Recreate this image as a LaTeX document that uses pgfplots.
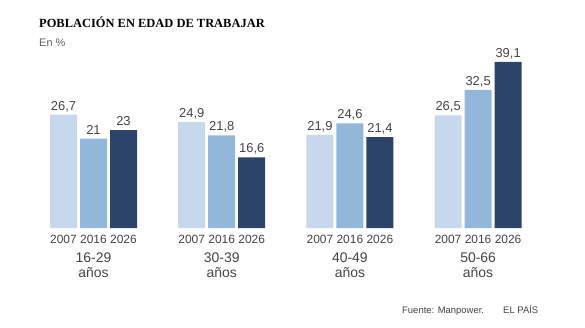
\documentclass[border=0pt]{standalone}
\usepackage{pgfplots}
\pgfplotsset{compat=1.18}
\usepackage{fontspec}
\setmainfont{Liberation Sans}
\newfontfamily\titlefont{Liberation Serif}
\definecolor{c1}{RGB}{198,217,236}
\definecolor{c2}{RGB}{146,183,219}
\definecolor{c3}{RGB}{44,68,105}
\definecolor{txt}{RGB}{68,68,68}
\begin{document}
\begin{tikzpicture}
\useasboundingbox (0,0) rectangle (585bp,328bp);
\node[anchor=base west, inner sep=0pt] at (39bp,300bp) {\titlefont\bfseries\fontsize{12.5}{14}\selectfont POBLACIÓN EN EDAD DE TRABAJAR};
\node[anchor=base west, inner sep=0pt, text=txt!85] at (39bp,281bp) {\fontsize{11}{13}\selectfont En \%};
\node[anchor=base west, inner sep=0pt, text=txt] at (402bp,15bp) {\fontsize{9.5}{11}\selectfont Fuente: Manpower.};
\node[anchor=base west, inner sep=0pt, text=txt] at (503bp,15bp) {\fontsize{9.5}{11}\selectfont EL PAÍS};
\begin{axis}[
  at={(93.5bp,100bp)}, anchor=origin,
  x=128.2bp, y=4.25bp,
  xmin=-0.5, xmax=3.5, ymin=0, ymax=42,
  clip=false,
  axis line style={draw=none},
  xtick=\empty, ytick=\empty,
  ybar, bar width=27bp,
  /pgf/number format/assume math mode=true,
  /pgf/number format/use comma,
  nodes near coords,
  nodes near coords style={anchor=base, yshift=4.5bp, text=txt, font=\fontsize{13}{15}\selectfont, inner sep=0pt},
]
\addplot[draw=none, fill=c1, bar shift=-30bp] coordinates {(0,26.7) (1,24.9) (2,21.9) (3,26.5)};
\addplot[draw=none, fill=c2, bar shift=0bp] coordinates {(0,21) (1,21.8) (2,24.6) (3,32.5)};
\addplot[draw=none, fill=c3, bar shift=30bp] coordinates {(0,23) (1,16.6) (2,21.4) (3,39.1)};
\pgfplotsinvokeforeach{0,1,2,3}{
  \node[anchor=base, inner sep=0pt, text=txt, font=\fontsize{12}{14}\selectfont, yshift=-15bp] at (axis cs:#1,0) {\makebox[30bp]{2007}\makebox[30bp]{2016}\makebox[30bp]{2026}};
  \node[anchor=base, inner sep=0pt, text=txt, font=\fontsize{14}{16}\selectfont, yshift=-49bp] at (axis cs:#1,0) {años};
}
\node[anchor=base, inner sep=0pt, text=txt, font=\fontsize{14}{16}\selectfont, yshift=-34bp] at (axis cs:0,0) {16-29};
\node[anchor=base, inner sep=0pt, text=txt, font=\fontsize{14}{16}\selectfont, yshift=-34bp] at (axis cs:1,0) {30-39};
\node[anchor=base, inner sep=0pt, text=txt, font=\fontsize{14}{16}\selectfont, yshift=-34bp] at (axis cs:2,0) {40-49};
\node[anchor=base, inner sep=0pt, text=txt, font=\fontsize{14}{16}\selectfont, yshift=-34bp] at (axis cs:3,0) {50-66};
\end{axis}
\end{tikzpicture}
\end{document}
